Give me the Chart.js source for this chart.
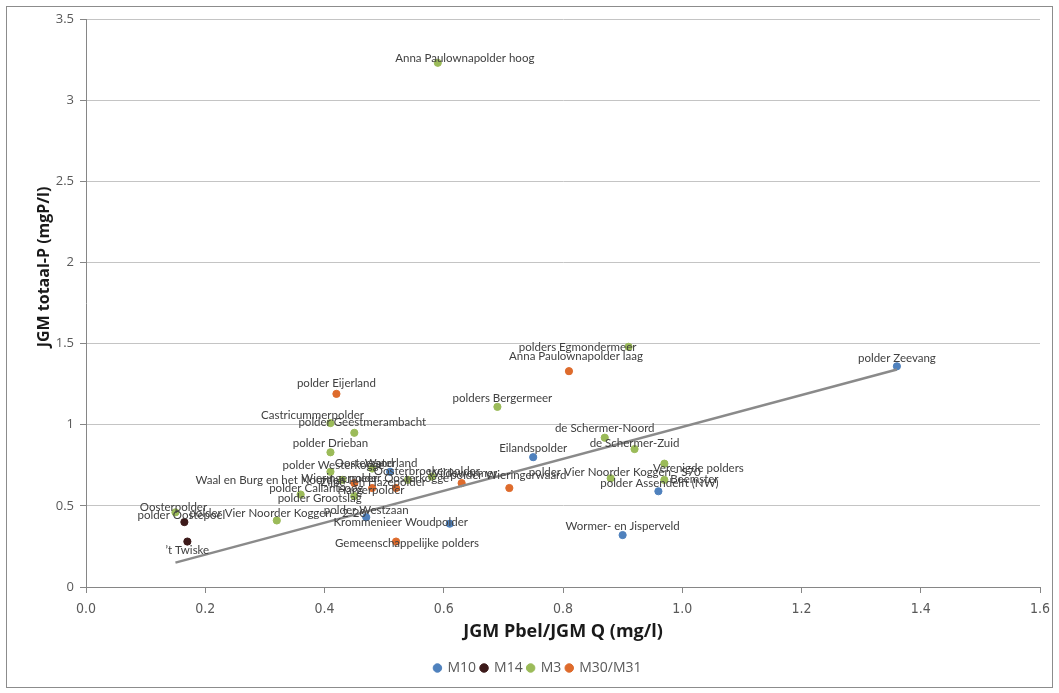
<!DOCTYPE html>
<html>
<head>
<meta charset="utf-8">
<title>JGM totaal-P vs JGM Pbel/JGM Q</title>
<script src="https://cdn.jsdelivr.net/npm/chart.js@4/dist/chart.umd.min.js"></script>
<style>
  html, body { margin: 0; padding: 0; background: #fff; }
  #wrap { width: 1059px; height: 693px; }
</style>
</head>
<body>
<div id="wrap"><canvas id="scatter" width="1059" height="693"></canvas></div>
<script>
/* Data ---------------------------------------------------------------------- */
// M10
const m10Names = ['polder Zeevang', 'Eilandspolder', 'polder Assendelft (NW)', 'Wormer- en Jisperveld',
  'Krommenieer Woudpolder', 'polder Westzaan', 'Waterland'];
const m10X = [1.36, 0.75, 0.96, 0.90, 0.61, 0.47, 0.51];
const m10Y = [1.36, 0.80, 0.59, 0.32, 0.39, 0.43, 0.71];

// M14
const m14Names = ['polder Oostepoel', '’t Twiske'];
const m14X = [0.165, 0.17];
const m14Y = [0.40, 0.28];

// M3
const m3Names = ['Anna Paulownapolder hoog', 'polders Egmondermeer', 'polders Bergermeer', 'Castricummerpolder',
  'polder Geestmerambacht', 'polder Drieban', 'de Schermer-Noord', 'de Schermer-Zuid', 'Verenigde polders',
  'Beemster', 'polder Vier Noorder Koggen - S70', 'Oosterpolder', 'polder Vier Noorder Koggen - 2-20',
  'polder Grootslag', 'polder Westerkogge', 'Oosterzand', 'Waal en Burg en het Noorden', 'Wieringermeer',
  'polder Oosterkogge', 'Oosterbroekerpolder'];
const m3X = [0.59, 0.91, 0.69, 0.41, 0.45, 0.41, 0.87, 0.92, 0.97, 0.97, 0.88, 0.15, 0.32,
  0.36, 0.41, 0.48, 0.43, 0.45, 0.54, 0.58];
const m3Y = [3.23, 1.48, 1.11, 1.01, 0.95, 0.83, 0.92, 0.85, 0.76, 0.66, 0.67, 0.46, 0.41,
  0.57, 0.71, 0.73, 0.66, 0.56, 0.66, 0.68];

// M30/M31
const m30Names = ['Anna Paulownapolder laag', 'polder Eijerland', 'Wijdewormer', 'polder Wieringerwaard',
  'Gemeenschappelijke polders', 'polder Callantsoog', 'Hargerpolder', 'Zijpe- en Hazepolder'];
const m30X = [0.81, 0.42, 0.63, 0.71, 0.52, 0.45, 0.52, 0.48];
const m30Y = [1.33, 1.19, 0.64, 0.61, 0.28, 0.64, 0.61, 0.61];

// lineaire trendlijn (begin- en eindpunt)
const trendX = [0.15, 1.36];
const trendY = [0.15, 1.34];

const xTicks = { min: 0, max: 1.6, step: 0.2 };
const yTicks = { min: 0, max: 3.5, step: 0.5 };

/* Opmaak -------------------------------------------------------------------- */
const colors = { 'M10': '#4F81BD', 'M14': '#3D1A1A', 'M3': '#9BBB59', 'M30/M31': '#DE6B2C' };

// verschuiving van de labels t.o.v. het punt (px), standaard gecentreerd erboven
const labelShift = {
  'polder Zeevang': [0, -8], 'polder Assendelft (NW)': [1, -8], 'Krommenieer Woudpolder': [-49, -1],
  'polder Westzaan': [0, -7], 'Waterland': [1, -8],
  'polder Oostepoel': [-3, -7], '’t Twiske': [0, 9],
  'Anna Paulownapolder hoog': [27, -5], 'polders Egmondermeer': [-51, 0], 'polders Bergermeer': [5, -9],
  'Castricummerpolder': [-18, -8], 'polder Geestmerambacht': [8, -11], 'de Schermer-Zuid': [0, -6],
  'Verenigde polders': [34, 5], 'Beemster': [30, -1], 'polder Vier Noorder Koggen - S70': [4, -6],
  'Oosterpolder': [-2, -5], 'polder Vier Noorder Koggen - 2-20': [1, -7], 'polder Grootslag': [19, 4],
  'polder Westerkogge': [3, -6], 'Oosterzand': [-8, -5], 'Waal en Burg en het Noorden': [-72, 0],
  'Wieringermeer': [-15, -18], 'polder Oosterkogge': [-9, -2], 'Oosterbroekerpolder': [-5, -5],
  'Anna Paulownapolder laag': [7, -15], 'polder Eijerland': [0, -11], 'Wijdewormer': [1, -10],
  'polder Wieringerwaard': [-1, -13], 'Gemeenschappelijke polders': [11, 2], 'polder Callantsoog': [-38, 5],
  'Hargerpolder': [-25, 2], 'Zijpe- en Hazepolder': [1, -6]
};

const PLOT_BOTTOM = 587;
const PAD = { top: 19, right: 19, bottom: 8, left: 36 };

function toPoints(xs, ys) {
  return xs.map((x, i) => ({ x, y: ys[i] }));
}

function scatterSet(label, names, xs, ys) {
  return {
    type: 'scatter',
    label,
    names,
    data: toPoints(xs, ys),
    backgroundColor: colors[label],
    borderColor: colors[label],
    borderWidth: 1,
    pointRadius: 3.6,
    pointStyle: 'circle',
    order: 1
  };
}

/* Plugins ------------------------------------------------------------------- */
const frame = {
  id: 'frame',
  beforeDraw(chart) {
    const { ctx } = chart;
    ctx.save();
    ctx.fillStyle = '#fff';
    ctx.fillRect(0, 0, chart.width, chart.height);
    ctx.strokeStyle = '#8c8c8c';
    ctx.lineWidth = 1;
    ctx.strokeRect(6.5, 6.5, 1046, 681);
    ctx.restore();
  }
};

const pointLabels = {
  id: 'pointLabels',
  afterDatasetsDraw(chart) {
    const { ctx } = chart;
    ctx.save();
    ctx.font = '11.5px Lato, "Open Sans", sans-serif';
    ctx.fillStyle = '#404040';
    ctx.textAlign = 'center';
    ctx.textBaseline = 'middle';
    chart.data.datasets.forEach((ds, i) => {
      if (!ds.names) return;
      chart.getDatasetMeta(i).data.forEach((pt, j) => {
        const name = ds.names[j];
        const [dx, dy] = labelShift[name] || [0, -9];
        ctx.fillText(name, pt.x + dx, pt.y + dy);
      });
    });
    ctx.restore();
  }
};

const axisTitles = {
  id: 'axisTitles',
  afterDraw(chart) {
    const { ctx, chartArea } = chart;
    ctx.save();
    ctx.fillStyle = '#1a1a1a';
    ctx.textAlign = 'center';
    ctx.textBaseline = 'middle';
    ctx.font = 'bold 18px "Open Sans", sans-serif';
    ctx.fillText('JGM Pbel/JGM Q (mg/l)', (chartArea.left + chartArea.right) / 2, 632);
    ctx.translate(44, 267);
    ctx.rotate(-Math.PI / 2);
    ctx.font = 'bold 16px "Open Sans", sans-serif';
    ctx.fillText('JGM totaal-P (mgP/l)', 0, 0);
    ctx.restore();
  }
};

/* Grafiek ------------------------------------------------------------------- */
const ctx = document.getElementById('scatter');

new Chart(ctx, {
  data: {
    datasets: [
      scatterSet('M10', m10Names, m10X, m10Y),
      scatterSet('M14', m14Names, m14X, m14Y),
      scatterSet('M3', m3Names, m3X, m3Y),
      scatterSet('M30/M31', m30Names, m30X, m30Y),
      {
        type: 'line',
        label: 'trend',
        data: toPoints(trendX, trendY),
        borderColor: '#8a8a8a',
        borderWidth: 2.5,
        pointRadius: 0,
        fill: false,
        order: 0
      }
    ]
  },
  options: {
    responsive: false,
    animation: false,
    events: [],
    layout: { padding: PAD },
    plugins: {
      tooltip: { enabled: false },
      legend: {
        position: 'bottom',
        labels: {
          filter: (item) => item.text !== 'trend',
          usePointStyle: true,
          pointStyle: 'circle',
          boxWidth: 6,
          boxHeight: 6,
          padding: 5,
          color: '#595959',
          font: { family: '"Open Sans", sans-serif', size: 14 }
        }
      }
    },
    scales: {
      x: {
        type: 'linear',
        min: xTicks.min,
        max: xTicks.max,
        afterFit: (s) => { s.height = s.chart.height - PLOT_BOTTOM - s.chart.legend.height - PAD.bottom; },
        ticks: {
          stepSize: xTicks.step,
          padding: 8,
          color: '#595959',
          font: { family: '"Liberation Sans Narrow", "DejaVu Sans Condensed", sans-serif', size: 14 },
          callback: (v) => Number(v).toFixed(1)
        },
        grid: { drawOnChartArea: false, color: '#868686', tickLength: 6 },
        border: { color: '#868686' }
      },
      y: {
        type: 'linear',
        min: yTicks.min,
        max: yTicks.max,
        afterFit: (s) => { s.width = 86 - PAD.left; },
        ticks: {
          stepSize: yTicks.step,
          padding: 6,
          color: '#595959',
          font: { family: '"Open Sans", sans-serif', size: 13 },
          callback: (v) => String(Math.round(v * 10) / 10)
        },
        grid: { color: '#C4C4C4', tickColor: '#868686', tickLength: 6 },
        border: { color: '#868686' }
      }
    }
  },
  plugins: [frame, pointLabels, axisTitles]
});
</script>
</body>
</html>
